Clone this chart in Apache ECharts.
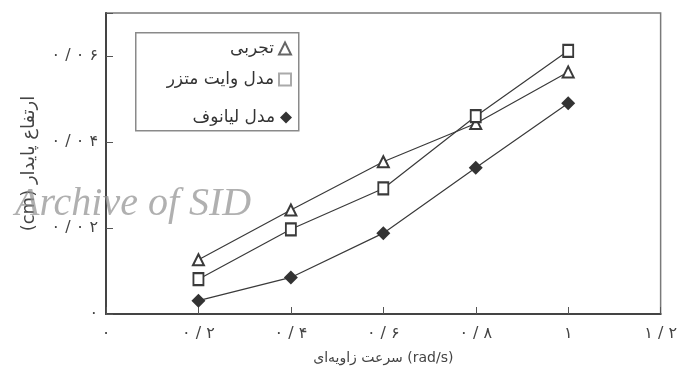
<!DOCTYPE html>
<html>
<head>
<meta charset="utf-8">
<script src="https://cdn.jsdelivr.net/npm/echarts@6/dist/echarts.min.js"></script>
<style>html,body{margin:0;padding:0;background:#fff}#c{width:680px;height:381px}</style>
</head>
<body>
<div id="c"></div>
<script>
const xValues = [0.2, 0.4, 0.6, 0.8, 1.0];
const experimental = [0.0126, 0.0242, 0.0354, 0.0443, 0.0563];
const whiteMetzner = [0.0081, 0.0197, 0.0292, 0.0460, 0.0612];
const leonov = [0.0031, 0.0085, 0.0188, 0.0340, 0.0490];
const seriesNames = ['تجربی', 'مدل وایت متزر', 'مدل لیانوف'];
const xTickLabels = {'0':'۰', '0.2':'۰ / ۲', '0.4':'۰ / ۴', '0.6':'۰ / ۶', '0.8':'۰ / ۸', '1':'۱', '1.2':'۱ / ۲'};
const yTickLabels = {'0':'۰', '0.02':'۰ / ۰ ۲', '0.04':'۰ / ۰ ۴', '0.06':'۰ / ۰ ۶'};
const xName = 'سرعت زاویه‌ای (rad/s)';
const yName = '(cm) ارتفاع پایدار';

const pair = arr => xValues.map((x, i) => [x, arr[i]]);
const key = v => String(Math.round(v * 100) / 100);
const font = 'DejaVu Sans';
const ink = '#3a3a3a';

const legendIcons = [
  {icon: 'emptyTriangle', itemStyle: {color: '#666', borderWidth: 1.2}},
  {icon: 'emptyRect', itemStyle: {color: '#aaa', borderWidth: 1.2}},
  {icon: 'diamond', itemStyle: {color: '#333'}}
];
const legendTops = [40, 71, 109];

const chart = echarts.init(document.getElementById('c'), null, {renderer: 'canvas'});
chart.setOption({
  animation: false,
  backgroundColor: '#fff',
  grid: {left: 106, right: 14, top: 13, bottom: 67, show: true, borderColor: '#7a7a7a', borderWidth: 1.5},
  xAxis: {
    type: 'value', min: 0, max: 1.2, interval: 0.2,
    name: xName, nameLocation: 'middle', nameGap: 37,
    nameTextStyle: {fontFamily: font, fontSize: 14, color: '#444'},
    axisLine: {show: true, lineStyle: {color: '#444', width: 2}},
    axisTick: {show: true, inside: true, length: 7, lineStyle: {color: '#555', width: 1}},
    axisLabel: {margin: 12, fontFamily: font, fontSize: 16, color: '#444',
      formatter: v => xTickLabels[key(v)] || ''},
    splitLine: {show: false}
  },
  yAxis: {
    type: 'value', min: 0, max: 0.07, interval: 0.02,
    name: yName, nameLocation: 'middle', nameGap: 68,
    nameTextStyle: {fontFamily: font, fontSize: 18, color: '#444'},
    axisLine: {show: true, lineStyle: {color: '#444', width: 2}},
    axisTick: {show: true, inside: true, length: 7, lineStyle: {color: '#555', width: 1}},
    axisLabel: {margin: 8, fontFamily: font, fontSize: 16, color: '#444',
      formatter: v => yTickLabels[key(v)] || ''},
    splitLine: {show: false}
  },
  legend: seriesNames.map((name, i) => ({
    orient: 'vertical', right: 388, top: legendTops[i], align: 'right', z: 6,
    padding: 0, itemWidth: 12, itemHeight: 12, itemGap: 0,
    textStyle: {fontFamily: font, fontSize: 17, color: '#333'},
    data: [Object.assign({name: name}, legendIcons[i])]
  })),
  graphic: [
    {type: 'rect', left: 135, top: 32, z: 5, silent: true,
      shape: {width: 163, height: 98},
      style: {fill: '#fff', stroke: '#8a8a8a', lineWidth: 1.5}},
    {type: 'text', left: 15, top: 184, z: 100, silent: true,
      style: {text: 'Archive of SID', fontFamily: 'Liberation Serif', fontStyle: 'italic', fontSize: 40, fill: 'rgba(150,150,150,0.75)'}}
  ],
  series: [
    {name: seriesNames[0], type: 'line', data: pair(experimental), symbol: 'emptyTriangle', symbolSize: 11,
      lineStyle: {color: ink, width: 1.2}, itemStyle: {color: ink, borderWidth: 1.5}},
    {name: seriesNames[1], type: 'line', data: pair(whiteMetzner), symbol: 'emptyRect', symbolSize: [10, 12],
      lineStyle: {color: ink, width: 1.2}, itemStyle: {color: ink, borderWidth: 1.5}},
    {name: seriesNames[2], type: 'line', data: pair(leonov), symbol: 'diamond', symbolSize: 14,
      lineStyle: {color: ink, width: 1.2}, itemStyle: {color: '#333'}}
  ]
});
</script>
</body>
</html>
